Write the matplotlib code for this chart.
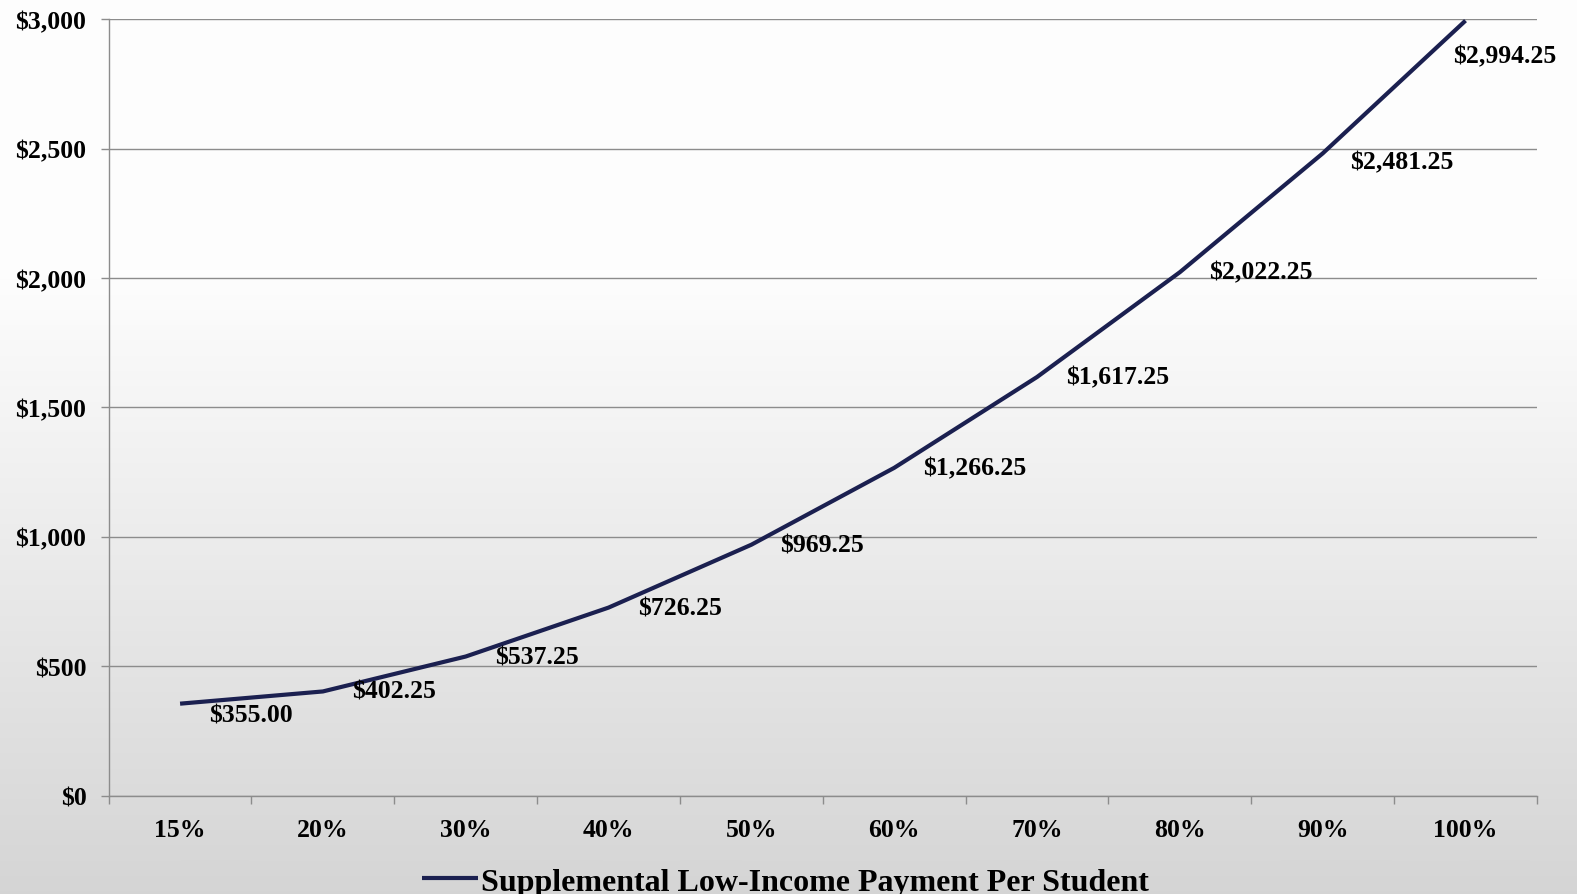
import matplotlib
matplotlib.use("Agg")
import matplotlib.pyplot as plt
import matplotlib.ticker as pltticker
import numpy as np

categories = ["15%", "20%", "30%", "40%", "50%", "60%", "70%", "80%", "90%", "100%"]
payment = [355.00, 402.25, 537.25, 726.25, 969.25, 1266.25, 1617.25, 2022.25, 2481.25, 2994.25]
series_name = "Supplemental Low-Income Payment Per Student"

plt.rcParams["font.family"] = ["Liberation Serif", "DejaVu Serif"]
plt.rcParams["font.weight"] = "bold"

fig = plt.figure(figsize=(15.77, 8.95), dpi=100)

# gradient background, white on top to light gray at bottom
bg = fig.add_axes([0, 0, 1, 1], zorder=-10)
t = np.linspace(0, 1, 256)
shade = np.where(t < 0.3, 0.995, 0.995 - (t - 0.3) / 0.7 * 0.16)
grad = np.dstack([shade, shade, shade])[0][:, None, :].repeat(2, axis=1)
bg.imshow(grad, aspect="auto", extent=[0, 1, 0, 1], interpolation="bilinear")
bg.set_axis_off()

ax = fig.add_axes([0.0689, 0.110, 0.9057, 0.8675])
ax.set_facecolor("none")

x = np.arange(len(categories))
line_color = "#1b2050"
ax.plot(x, payment, color=line_color, linewidth=3.0, solid_capstyle="butt", zorder=3)

for i, v in enumerate(payment):
    if i == len(payment) - 1:
        dx, dy = -9, -25
    elif i == 0:
        dx, dy = 21, -8
    elif i == len(payment) - 2:
        dx, dy = 20, -6
    else:
        dx, dy = 21, 0
    ax.annotate(f"${v:,.2f}", (x[i], v), xytext=(dx, dy), textcoords="offset points",
                ha="left", va="center", fontsize=18.5, fontweight="bold", color="black", zorder=4)

ax.set_xlim(-0.5, len(categories) - 0.5)
ax.set_ylim(0, 3000)
ax.yaxis.set_major_locator(pltticker.MultipleLocator(500))
ax.yaxis.set_major_formatter(pltticker.FuncFormatter(lambda v, p: f"${v:,.0f}"))
ax.set_xticks(x)
ax.set_xticklabels(categories)
ax.set_xticks(np.arange(-0.5, len(categories)), minor=True)

grid_color = "#8c8c8c"
ax.grid(True, axis="y", color=grid_color, linewidth=1.0, zorder=1)
ax.set_axisbelow(True)
for s in ["top", "right"]:
    ax.spines[s].set_visible(False)
for s in ["left", "bottom"]:
    ax.spines[s].set_color(grid_color)
    ax.spines[s].set_linewidth(1.0)

ax.tick_params(axis="x", which="major", length=0, pad=16, labelsize=18.5)
ax.tick_params(axis="x", which="minor", length=6, width=1.0, color=grid_color, direction="out")
ax.tick_params(axis="y", length=6, width=1.0, color=grid_color, pad=10, labelsize=18.5)

fig.legend([ax.lines[0]], [series_name], loc="lower center", bbox_to_anchor=(0.498, -0.035),
           frameon=False, fontsize=23, handlelength=1.75, handletextpad=0.1)

fig.savefig("out.png", dpi=100)
